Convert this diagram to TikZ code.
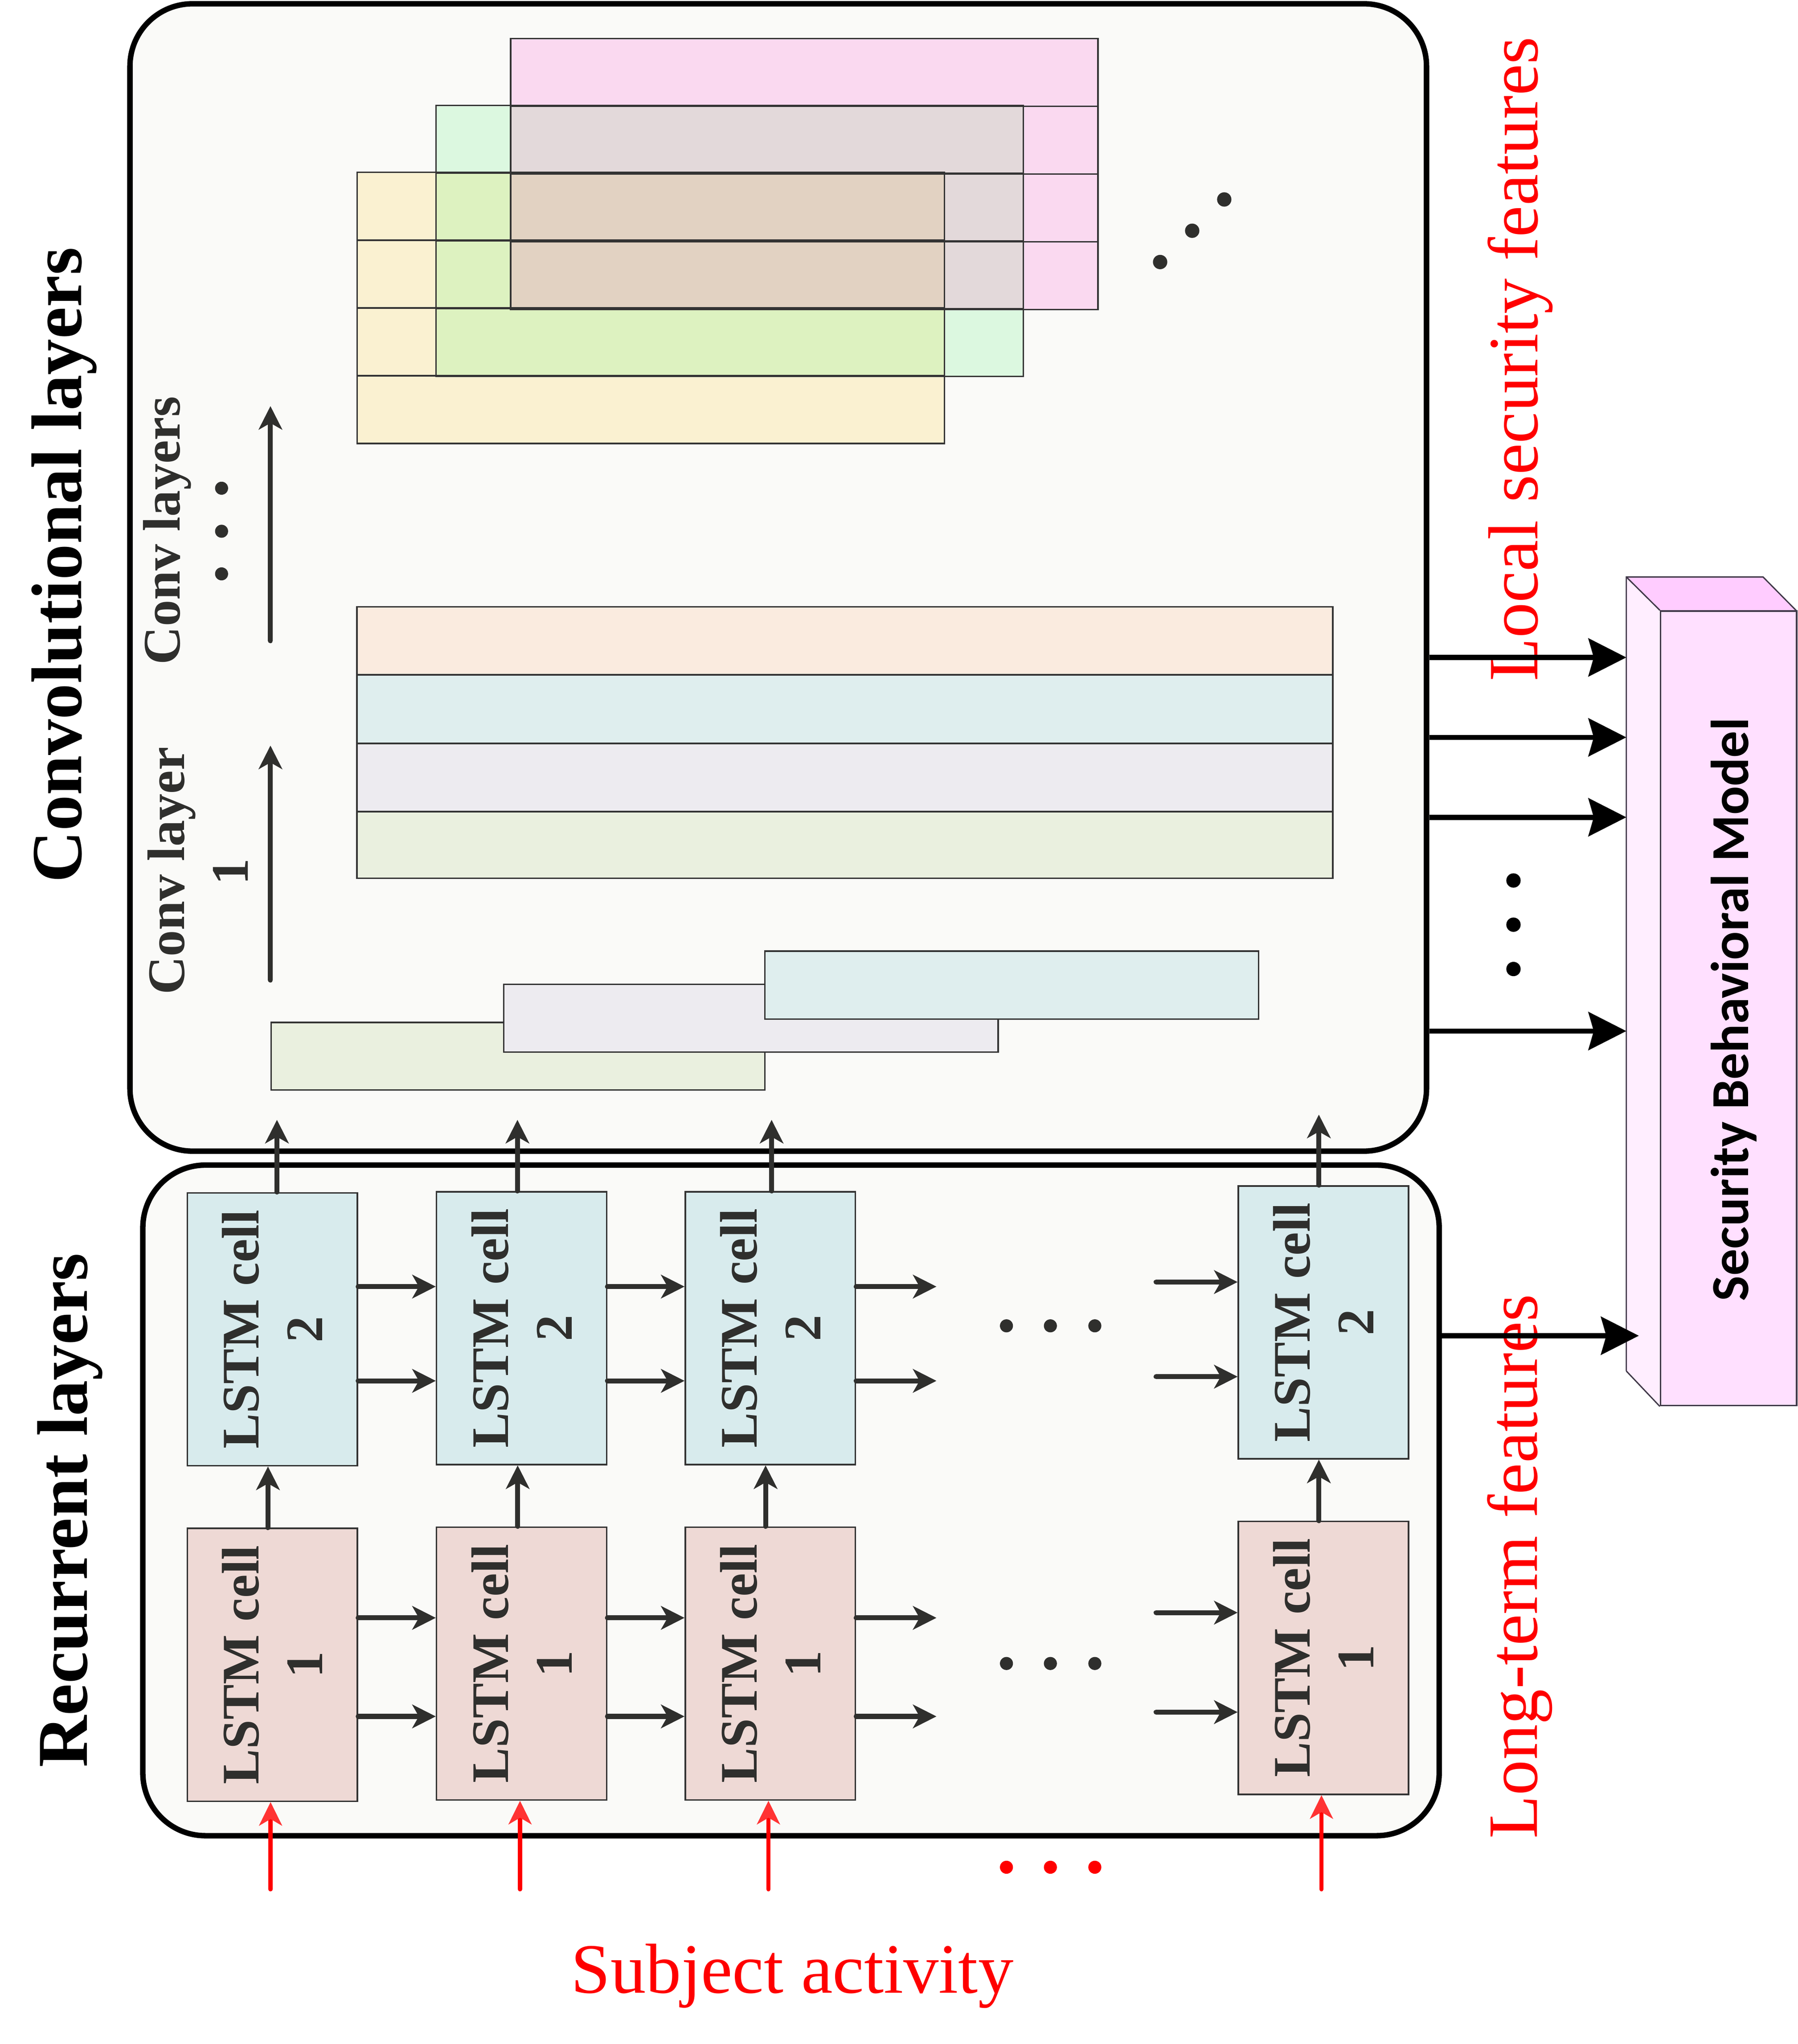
\documentclass[tikz,border=0pt]{standalone}
\usepackage{fontspec}
\setmainfont{Liberation Serif}
\newfontfamily\sbmfont{Carlito}
\usetikzlibrary{arrows.meta}
\definecolor{bg}{HTML}{FAFAF8}
\definecolor{ink}{HTML}{2F2F2D}
\definecolor{edge}{HTML}{333333}
\definecolor{lstmA}{HTML}{EED9D5}
\definecolor{lstmB}{HTML}{D8EBED}
\definecolor{cyel}{HTML}{FAF1D1}
\definecolor{cmint}{HTML}{DCF8E0}
\definecolor{cpink}{HTML}{FAD9F0}
\definecolor{cyg}{HTML}{DDF2C0}
\definecolor{cpg}{HTML}{E3D9DA}
\definecolor{ctan}{HTML}{E2D2C2}
\definecolor{cpeach}{HTML}{FAEBDF}
\definecolor{ccyan}{HTML}{DFEEEE}
\definecolor{clav}{HTML}{EDEBF0}
\definecolor{cpgreen}{HTML}{EAF0DF}
\definecolor{sbmfront}{HTML}{FFE0FF}
\definecolor{sbmside}{HTML}{FFEEFF}
\definecolor{sbmtop}{HTML}{FFCCFF}
\definecolor{sbmline}{HTML}{403848}
\definecolor{redtip}{HTML}{FF3333}
\begin{document}
\begin{tikzpicture}[x=1pt,y=-1pt,
  bigbox/.style={draw=black, line width=4.2pt, fill=bg, rounded corners=48pt, inner sep=0pt},
  cellbox/.style={draw=edge, line width=1.2pt, inner sep=0pt, minimum width=130.5pt, minimum height=209.3pt},
  lstmone/.style={cellbox, fill=lstmA},
  lstmtwo/.style={cellbox, fill=lstmB},
  celltxt/.style={rotate=90, align=center, font=\bfseries\fontsize{40.5}{49}\selectfont, text=ink, inner sep=0pt},
  convtxt/.style={rotate=90, font=\bfseries\fontsize{40.5}{49}\selectfont, text=ink, inner sep=0pt, anchor=base},
  titletxt/.style={rotate=90, font=\bfseries\fontsize{55}{66}\selectfont, text=black, inner sep=0pt, anchor=base},
  redtxt/.style={font=\fontsize{54.3}{65}\selectfont, text=red, inner sep=0pt, anchor=base},
  darr/.style={draw=ink, line width=3.8pt, line cap=round, -{Stealth[length=18pt,width=18pt,inset=5pt]}},
  rarr/.style={draw=red, line width=3.3pt, line cap=round, -{Stealth[length=18pt,width=17.5pt,inset=5pt,color=redtip]}},
  barr/.style={draw=black, line width=4pt, -{Stealth[length=29pt,width=29pt,inset=4pt]}},
  layer/.style={draw=edge, line width=1.2pt}
]
\useasboundingbox (0,0) rectangle (1379.2,1567.9);
\fill[white] (0,0) rectangle (1379.2,1567.9);

% main boxes
\node[bigbox, minimum width=994.8pt, minimum height=880.1pt] (conv) at (597.1,442.95) {};
\node[bigbox, minimum width=994.6pt, minimum height=514.4pt] (rec) at (606.9,1150.9) {};

% titles
\node[titletxt] (convtitle) at (62.5,433.5) {Convolutional layers};
\node[titletxt] (rectitle) at (67,1158.5) {Recurrent layers};

% top stacked feature maps
\fill[cyel] (274,132.2) rectangle (724.6,340.2);
\fill[cmint] (334.6,80.8) rectangle (785.3,288.8);
\fill[cpink] (391.8,29.5) rectangle (842.4,237.5);
\fill[cyg] (334.6,132.2) rectangle (724.6,288.8);
\fill[cpg] (391.8,80.8) rectangle (785.3,237.5);
\fill[ctan] (391.8,132.2) rectangle (724.6,237.5);
\foreach \x/\y in {274/132.2, 334.6/80.8, 391.8/29.5} {
  \draw[layer] (\x,\y) rectangle ++(450.6,208);
  \foreach \k in {1,2,3} \draw[layer] (\x,{\y+52*\k}) -- ++(450.6,0);
}

% middle feature maps
\filldraw[layer, fill=cpeach] (273.9,465.4) rectangle (1022.6,517.7);
\filldraw[layer, fill=ccyan] (273.9,517.7) rectangle (1022.6,570.3);
\filldraw[layer, fill=clav] (273.9,570.3) rectangle (1022.6,622.6);
\filldraw[layer, fill=cpgreen] (273.9,622.6) rectangle (1022.6,673.6);

% bottom staggered maps
\filldraw[layer, fill=cpgreen] (208.1,784.3) rectangle (586.9,836.1);
\filldraw[layer, fill=clav] (386.5,755) rectangle (765.8,807.1);
\filldraw[layer, fill=ccyan] (586.9,729.6) rectangle (965.6,781.7);

% conv labels and arrows
\node[convtxt] (cl1a) at (141.3,668) {Conv layer};
\node[convtxt] (cl1b) at (190.3,668.8) {1};
\node[convtxt] (clsa) at (138.1,407) {Conv layers};
\foreach \y in {374.5,407.5,440.2} \fill[ink] (170,\y) circle[radius=5pt];
\coordinate (ca1) at (207.5,751.8);
\coordinate (ca2) at (207.5,571.9);
\coordinate (cb1) at (207.5,491.5);
\coordinate (cb2) at (207.5,311.5);
\draw[darr] (ca1) -- (ca2);
\draw[darr] (cb1) -- (cb2);

% diagonal dots
\fill[ink] (890.1,201) circle[radius=5.5pt];
\fill[ink] (914.7,177) circle[radius=5.5pt];
\fill[ink] (939.3,153) circle[radius=5.5pt];

% LSTM cells
\foreach \n/\x/\ya/\yb in {1/208.95/1277.05/1019.65, 2/400.2/1276.05/1018.8, 3/591.05/1276.05/1018.8, 4/1015.4/1271.75/1014.35} {
  \node[lstmone] (a\n) at (\x,\ya) {};
  \node[celltxt] (ta\n) at (\x,\ya) {LSTM cell\\1};
  \node[lstmtwo] (b\n) at (\x,\yb) {};
  \node[celltxt] (tb\n) at (\x,\yb) {LSTM cell\\2};
}

% horizontal arrows between cells
\foreach \y in {986.9,1059.2} {
  \draw[darr] (b1.east |- 0,\y) -- (b2.west |- 0,\y);
  \draw[darr] (b2.east |- 0,\y) -- (b3.west |- 0,\y);
}
\foreach \y in {1241,1316.6} {
  \draw[darr] (a1.east |- 0,\y) -- (a2.west |- 0,\y);
  \draw[darr] (a2.east |- 0,\y) -- (a3.west |- 0,\y);
}
\coordinate (e1) at (718.5,986.9);
\coordinate (e2) at (718.5,1059.2);
\coordinate (e3) at (718.5,1241);
\coordinate (e4) at (718.5,1316.6);
\draw[darr] (b3.east |- e1) -- (e1);
\draw[darr] (b3.east |- e2) -- (e2);
\draw[darr] (a3.east |- e3) -- (e3);
\draw[darr] (a3.east |- e4) -- (e4);
\coordinate (f1) at (887,983.4);
\coordinate (f2) at (887,1056);
\coordinate (f3) at (887,1237);
\coordinate (f4) at (887,1313.3);
\draw[darr] (f1) -- (b4.west |- f1);
\draw[darr] (f2) -- (b4.west |- f2);
\draw[darr] (f3) -- (a4.west |- f3);
\draw[darr] (f4) -- (a4.west |- f4);
\foreach \x in {772.2,805.9,840} {
  \fill[ink] (\x,1017) circle[radius=5pt];
  \fill[ink] (\x,1276) circle[radius=5pt];
  \fill[red] (\x,1432.3) circle[radius=5pt];
}

% vertical arrows cell1 -> cell2
\draw[darr] (205.6,0 |- a1.north) -- (205.6,0 |- b1.south);
\draw[darr] (397.2,0 |- a2.north) -- (397.2,0 |- b2.south);
\draw[darr] (587.4,0 |- a3.north) -- (587.4,0 |- b3.south);
\draw[darr] (1011.9,0 |- a4.north) -- (1011.9,0 |- b4.south);

% arrows cell2 -> conv
\coordinate (u1) at (212.5,859);
\coordinate (u2) at (397,859);
\coordinate (u3) at (592,859);
\coordinate (u4) at (1011.9,855);
\draw[darr] (u1 |- b1.north) -- (u1);
\draw[darr] (u2 |- b2.north) -- (u2);
\draw[darr] (u3 |- b3.north) -- (u3);
\draw[darr] (u4 |- b4.north) -- (u4);

% red inputs
\coordinate (r1) at (207.6,1449.2);
\coordinate (r2) at (399,1449.2);
\coordinate (r3) at (589.6,1449.2);
\coordinate (r4) at (1013.9,1449.2);
\draw[rarr] (r1) -- (r1 |- a1.south);
\draw[rarr] (r2) -- (r2 |- a2.south);
\draw[rarr] (r3) -- (r3 |- a3.south);
\draw[rarr] (r4) -- (r4 |- a4.south);
\node[redtxt] (subj) at (607.9,1528.6) {Subject activity};

% red side labels
\node[redtxt, rotate=90] (localtxt) at (1179.5,275.5) {Local security features};
\node[redtxt, rotate=90] (longtxt) at (1179.2,1201.5) {Long-term features};

% Security behavioral model (3D box)
\fill[sbmside] (1247.8,442.6) -- (1274.1,468.7) -- (1274.1,1078.2) -- (1247.8,1051.7) -- cycle;
\fill[sbmtop] (1247.8,442.6) -- (1352.7,442.6) -- (1378.5,468.7) -- (1274.1,468.7) -- cycle;
\node[draw=sbmline, fill=sbmfront, line width=1.2pt, inner sep=0pt, minimum width=104.4pt, minimum height=609.5pt] (sbm) at (1326.3,773.45) {};
\draw[sbmline, line width=1pt] (1247.8,1051.7) -- (1247.8,442.6) -- (1352.7,442.6) -- (1378.5,468.7);
\draw[sbmline, line width=1pt] (1247.8,442.6) -- (sbm.north west);
\draw[sbmline, line width=1pt] (1247.8,1051.7) -- (sbm.south west);
\node[rotate=90, anchor=base, inner sep=0pt, font=\sbmfont\bfseries\fontsize{41}{49}\selectfont] (sbmtxt) at (1341.3,774.3) {Security Behavioral Model};

% outputs to model
\coordinate (s1) at (1247.8,504.3);
\coordinate (s2) at (1247.8,565.6);
\coordinate (s3) at (1247.8,626.9);
\coordinate (s4) at (1247.8,790.9);
\draw[barr] (conv.east |- s1) -- (s1);
\draw[barr] (conv.east |- s2) -- (s2);
\draw[barr] (conv.east |- s3) -- (s3);
\draw[barr] (conv.east |- s4) -- (s4);
\foreach \y in {675.4,709.3,743.3} \fill[black] (1161.2,\y) circle[radius=5.5pt];
\coordinate (lt) at (1257.4,1024.6);
\draw[barr] (rec.east |- lt) -- (lt);
\end{tikzpicture}
\end{document}
